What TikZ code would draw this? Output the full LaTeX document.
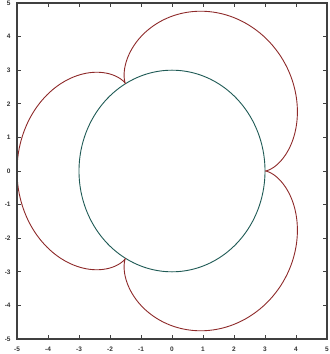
\documentclass[tikz,border=0pt]{standalone}
\usepackage{fontspec}
\setmainfont{Liberation Sans}
\definecolor{curvered}{HTML}{8E2A2A}
\definecolor{circteal}{HTML}{1F5A55}
\definecolor{framegray}{HTML}{404040}
\begin{document}
\begin{tikzpicture}[x=31pt,y=33.6pt,
  framestyle/.style={draw=framegray,line width=1.4pt},
  tickstyle/.style={draw=framegray,line width=0.9pt},
  ticklabel/.style={font=\fontsize{6.5}{7}\selectfont\bfseries,text=black!80,inner sep=0pt},
  redcurve/.style={draw=curvered,line width=0.9pt},
  tealcurve/.style={draw=circteal,line width=0.9pt}]
\useasboundingbox (-5.548,-5.446) rectangle (5.065,5.089);
% curves
\draw[tealcurve] plot[domain=0:360,samples=181,smooth] ({3*cos(\x)},{3*sin(\x)}) -- cycle;
\draw[redcurve] plot[domain=0:360,samples=361] ({4*cos(\x)-cos(4*\x)},{4*sin(\x)-sin(4*\x)});
% frame
\draw[framestyle] (-5,-5) rectangle (5,5);
% ticks
\foreach \i in {-4,...,4}{
  \draw[tickstyle] (\i,-5) -- ++(0,0.12);
  \draw[tickstyle] (\i,5) -- ++(0,-0.12);
  \draw[tickstyle] (-5,\i) -- ++(0.13,0);
  \draw[tickstyle] (5,\i) -- ++(-0.13,0);
}
\foreach \i in {-5,...,5}{
  \node[ticklabel] (xl\i) at (\i,-5.3) {\i};
  \node[ticklabel,anchor=east] (yl\i) at (-5.2,\i) {\i};
}
\end{tikzpicture}
\end{document}
